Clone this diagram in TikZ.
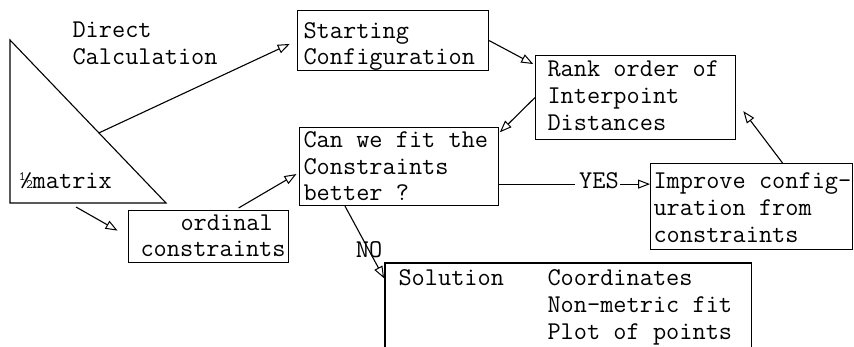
\documentclass[tikz,border=0pt]{standalone}
\usepackage{fontspec}
\usetikzlibrary{arrows.meta,calc}
\begin{document}
\begin{tikzpicture}[x=1pt,y=-1pt,line width=1.1pt,
  every node/.style={font=\ttfamily\fontsize{25.6}{27}\selectfont, inner sep=0pt},
  frame/.style={draw, anchor=north west},
  lbl/.style={anchor=base west},
  flow/.style={-{Triangle[open,length=12pt,width=9pt,line width=1pt]}}]
\useasboundingbox (0,0) rectangle (854,346);

% half matrix drawn as a right triangle
\coordinate (tt) at (10,40);
\coordinate (tl) at (10,203);
\coordinate (tr) at (166,203);
\draw (tt) -- (tl) -- (tr) -- cycle;
\coordinate (hyp) at ($(tt)!0.57!(tr)$);
\coordinate (tbase) at (76,207);
\node[lbl] (half) at (19,188) {½matrix};

\node[lbl] (dc1) at (72,37) {Direct};
\node[lbl] (dc2) at (72,64) {Calculation};

% boxes
\node[frame, minimum width=191pt, minimum height=60pt] (sc) at (297,10) {};
\node[lbl] (sc1) at (303,38) {Starting};
\node[lbl] (sc2) at (303,64) {Configuration};

\node[frame, minimum width=200pt, minimum height=84pt] (rank) at (535,55) {};
\node[lbl] (rk1) at (547,76) {Rank order of};
\node[lbl] (rk2) at (547,103) {Interpoint};
\node[lbl] (rk3) at (547,130) {Distances};

\node[frame, minimum width=199pt, minimum height=78pt] (can) at (299,127) {};
\node[lbl] (cn1) at (303,147) {Can we fit the};
\node[lbl] (cn2) at (303,174) {Constraints};
\node[lbl] (cn3) at (303,200) {better ?};

\node[frame, minimum width=160pt, minimum height=52pt] (ord) at (128,210) {};
\node[lbl] (od1) at (180,230) {ordinal};
\node[lbl] (od2) at (140,256) {constraints};

\node[frame, minimum width=202pt, minimum height=86pt] (imp) at (650,163) {};
\node[lbl] (im1) at (653,188) {Improve config-};
\node[lbl] (im2) at (653,215) {uration from};
\node[lbl] (im3) at (653,242) {constraints};

% solution box runs off the bottom edge
\node[anchor=north west, minimum width=365pt, minimum height=83pt] (sol) at (385,263) {};
\draw (sol.south west) -- (sol.north west) -- (sol.north east) -- (sol.south east);
\node[lbl] (so1) at (398,285) {Solution};
\node[lbl] (so2) at (547,285) {Coordinates};
\node[lbl] (so3) at (547,312) {Non-metric fit};
\node[lbl] (so4) at (547,339) {Plot of points};

% connectors
\draw[flow, shorten >=8pt] (hyp) -- (sc.west);
\draw[flow, shorten >=2pt] (sc.east) -- ($(rank.north west)+(0,10)$);
\draw[flow, shorten >=1pt] (rank.west) -- ($(can.north east)+(0,6)$);
\draw[flow, shorten >=12pt] (tbase) -- (ord.west);
\draw[flow, shorten >=3pt] ($(ord.north)+(30,-2)$) -- ($(can.west)+(0,6)$);
\draw[flow, shorten >=2pt] ($(imp.north)+(31,0)$) -- ($(rank.east)+(6,12)$);

\coordinate (yes0) at ($(can.south east)+(0,-22)$);
\node[anchor=base] (yes) at (599,188) {YES};
\draw (yes0) -- ($(yes.west |- yes0)+(-4,0)$);
\draw[flow] ($(yes.east |- yes0)+(1,0)$) -- (imp.west |- yes0);

\coordinate (no0) at ($(can.south west)+(46,0)$);
\node[anchor=base] (no) at (369,257) {NO};
\draw[flow, shorten >=2pt] (no0) -- ($(sol.north west)+(0,17)$);
\end{tikzpicture}
\end{document}
